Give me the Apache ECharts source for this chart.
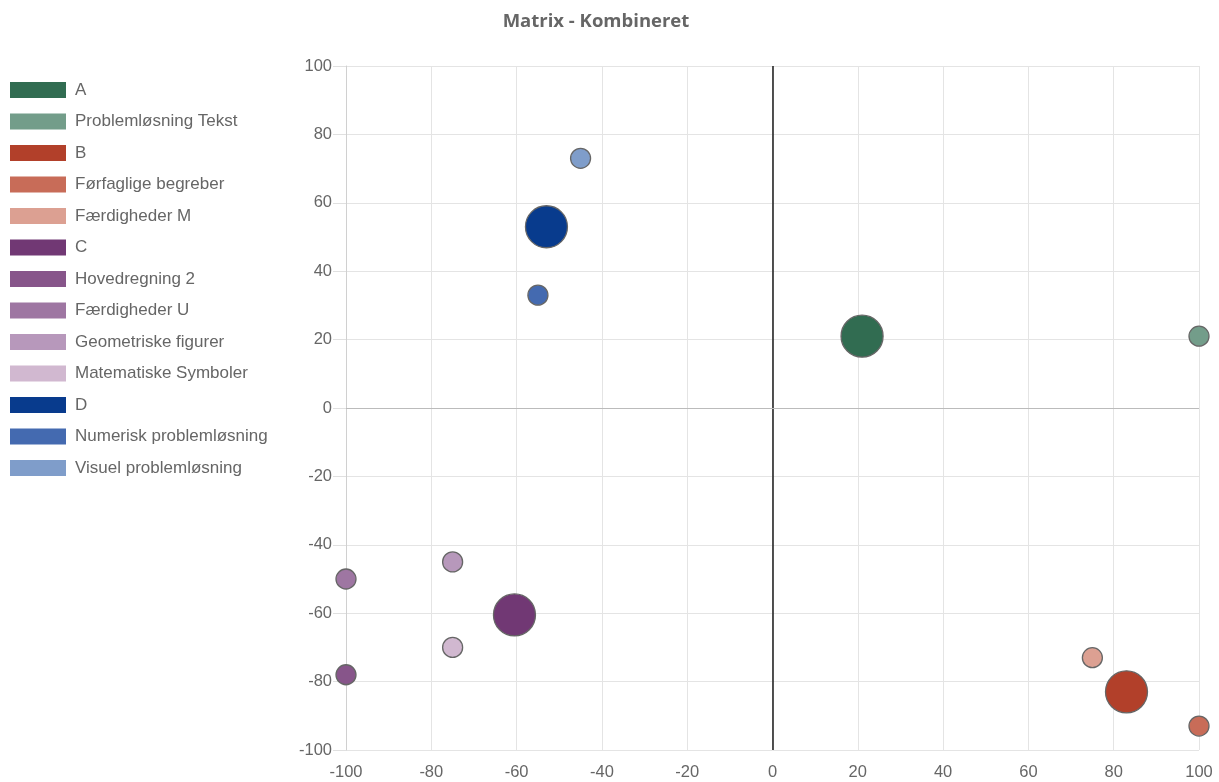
<!DOCTYPE html>
<html>
<head>
<meta charset="utf-8">
<title>Matrix - Kombineret</title>
<script src="https://cdn.jsdelivr.net/npm/echarts@6/dist/echarts.min.js"></script>
<style>
  html, body { margin: 0; padding: 0; background: #fff; }
  #chart { width: 1219px; height: 782px; }
</style>
</head>
<body>
<div id="chart"></div>
<script>
// Competence areas plotted on the combined matrix
const names = [
  'A', 'Problemløsning Tekst',
  'B', 'Førfaglige begreber', 'Færdigheder M',
  'C', 'Hovedregning 2', 'Færdigheder U', 'Geometriske figurer', 'Matematiske Symboler',
  'D', 'Numerisk problemløsning', 'Visuel problemløsning'
];
const xValues = [21, 100, 83, 100, 75, -60.5, -100, -100, -75, -75, -53, -55, -45];
const yValues = [21, 21, -83, -93, -73, -60.5, -78, -50, -45, -70, 53, 33, 73];
// bubble radius (main groups are drawn larger than their sub-areas)
const radii = [21, 10, 21, 10, 10, 21, 10, 10, 10, 10, 21, 10, 10];
const colors = [
  '#316c51', '#739d8a',
  '#b2402a', '#c86c58', '#dca092',
  '#713874', '#87558a', '#9e76a2', '#b798bb', '#d1b8d0',
  '#083b8d', '#446ab0', '#7f9dca'
];
const axisTicks = [-100, -80, -60, -40, -20, 0, 20, 40, 60, 80, 100];

const font = '"Liberation Sans", Arial, sans-serif';

const series = names.map((n, i) => ({
  name: n,
  type: 'scatter',
  data: [[xValues[i], yValues[i], radii[i]]],
  symbolSize: d => d[2] * 2,
  itemStyle: { color: colors[i], borderColor: '#666', borderWidth: 1.3, opacity: 1 },
  emphasis: { disabled: true },
  z: 5
}));

// zero lines of both axes
series.push({
  name: '__zero',
  type: 'scatter',
  data: [],
  silent: true,
  markLine: {
    silent: true,
    symbol: 'none',
    label: { show: false },
    animation: false,
    data: [
      { xAxis: 0, lineStyle: { color: '#1a1a1a', width: 1.5, type: 'solid' } },
      { yAxis: 0, lineStyle: { color: '#bbb', width: 1.2, type: 'solid' } }
    ]
  },
  z: 3
});

const chart = echarts.init(document.getElementById('chart'), null, { renderer: 'canvas' });
chart.setOption({
  animation: false,
  backgroundColor: '#fff',
  title: {
    text: 'Matrix - Kombineret',
    left: 591,
    textAlign: 'center',
    top: 7,
    textStyle: { fontFamily: '"Open Sans", Arial, sans-serif', fontWeight: 'bold', fontSize: 18.5, color: '#666' }
  },
  legend: {
    orient: 'vertical',
    left: 10,
    top: 81,
    padding: 0,
    itemWidth: 56,
    itemHeight: 16,
    itemGap: 13.5,
    icon: 'rect',
    data: names,
    selectedMode: true,
    textStyle: { fontFamily: font, fontSize: 17, color: '#666', padding: [0, 0, 0, 4], lineHeight: 18 },
    itemStyle: { borderWidth: 0 }
  },
  tooltip: { show: false },
  grid: { left: 346, right: 20, top: 66, bottom: 32, containLabel: false },
  xAxis: {
    type: 'value',
    min: axisTicks[0],
    max: axisTicks[axisTicks.length - 1],
    interval: 20,
    axisLine: { show: false },
    axisTick: { show: false },
    axisLabel: { fontFamily: font, fontSize: 16.5, color: '#666', margin: 14,
      formatter: v => axisTicks.includes(v) ? String(v) : '' },
    splitLine: { show: true, lineStyle: { color: '#e4e4e4', width: 1 } }
  },
  yAxis: {
    type: 'value',
    min: axisTicks[0],
    max: axisTicks[axisTicks.length - 1],
    interval: 20,
    axisLine: { show: true, onZero: false, lineStyle: { color: '#d0d0d0', width: 1 } },
    axisTick: { show: true, length: 13, lineStyle: { color: '#e0e0e0' } },
    axisLabel: { fontFamily: font, fontSize: 16.5, color: '#666', margin: 14,
      formatter: v => axisTicks.includes(v) ? String(v) : '' },
    splitLine: { show: true, lineStyle: { color: '#e4e4e4', width: 1 } }
  },
  series: series
});
</script>
</body>
</html>
